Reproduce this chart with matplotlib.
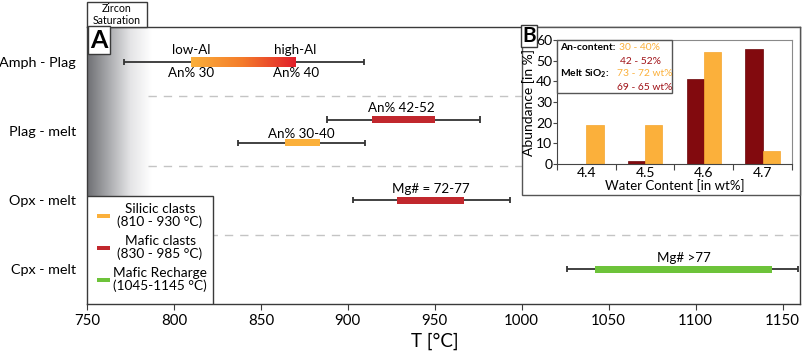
import numpy as np
import matplotlib
matplotlib.use("Agg")
import matplotlib.pyplot as plt
from matplotlib.colors import LinearSegmentedColormap
from matplotlib.patches import Rectangle

plt.rcParams['font.family'] = ['Lato', 'DejaVu Sans']
plt.rcParams['mathtext.fontset'] = 'custom'
plt.rcParams['mathtext.rm'] = 'Lato'
plt.rcParams['mathtext.bf'] = 'Lato:bold'

# ---------------- data ----------------
rows = ['Amph - Plag', 'Plag - melt', 'Opx - melt', 'Cpx - melt']
xticks = [750, 800, 850, 900, 950, 1000, 1050, 1100, 1150]

amph_whisker = [771, 909]
amph_bar = [810, 870]
plag_red_whisker = [888, 976]
plag_red_bar = [914, 950]
plag_or_whisker = [837, 910]
plag_or_bar = [864, 884]
opx_whisker = [903, 993]
opx_bar = [928, 967]
cpx_whisker = [1026, 1159]
cpx_bar = [1042, 1144]

zircon_limit = 787

legend_labels = ['Silicic clasts\n(810 - 930 °C)', 'Mafic clasts\n(830 - 985 °C)',
                 'Mafic Recharge\n(1045-1145 °C)']

water = ['4.4', '4.5', '4.6', '4.7']
mafic_abund = [0, 1.5, 41, 55.5]
silicic_abund = [19, 19, 54, 6.5]

ORANGE = '#FBB03B'
RED = '#C1272D'
GREEN = '#6DC33A'
DARKRED = '#820A0E'
GRAD_RED = '#E2202C'
TXTRED = '#A01218'

W, H = 803, 356
fig = plt.figure(figsize=(W / 100, H / 100), dpi=100)

def fx(p):
    return p / W

def fy(p):
    return 1 - p / H

# ---------------- main axes ----------------
L, R, T, B = 87, 800, 27, 304
ax = fig.add_axes([fx(L), fy(B), fx(R) - fx(L), fy(T) - fy(B)])
ax.set_xlim(750, 1160)
ax.set_ylim(3.5, -0.5)
for s in ax.spines.values():
    s.set_color('#3a3a3a')
    s.set_linewidth(1.0)

ax.set_yticks(range(len(rows)))
ax.set_yticklabels(rows, fontsize=10.4)
ax.tick_params(axis='y', length=0, pad=8)
ax.set_xticks(xticks)
ax.tick_params(axis='x', labelsize=10.8, length=4, color='#3a3a3a', pad=3)
ax.set_xlabel('T [°C]', fontsize=13.5)
ax.xaxis.set_label_coords(0.488, -0.105)
ax.xaxis.label.set_va('top')

# gradient (zircon saturation)
gcmap = LinearSegmentedColormap.from_list('g', ['#6e6f73', '#a9aaad', '#e4e4e6', '#ffffff'])
grad = np.linspace(0, 1, 256).reshape(1, -1)
ax.imshow(grad, extent=[750, zircon_limit, 3.5, -0.5], aspect='auto', cmap=gcmap,
          zorder=0, interpolation='bilinear')

ax.hlines([0.5, 1.5, 2.5], zircon_limit - 2, 1160, colors='#c4c4c4', linewidth=1,
          linestyles=(0, (6, 5)), zorder=1)

def whisker(y, lohi, cap=0.045):
    ax.hlines(y, lohi[0], lohi[1], colors='#333333', linewidth=1.3, zorder=2)
    ax.vlines(lohi, y - cap, y + cap, colors='#333333', linewidth=1.3, zorder=2)

fs_lab = 9.6

# Amph - Plag
y0 = 0
whisker(y0, amph_whisker)
bcmap = LinearSegmentedColormap.from_list('b', [ORANGE, '#F47A2A', GRAD_RED])
ax.imshow(grad, extent=[amph_bar[0], amph_bar[1], y0 + 0.072, y0 - 0.072],
          aspect='auto', cmap=bcmap, zorder=3, interpolation='bilinear')
ax.set_xlim(750, 1160)
ax.set_ylim(3.5, -0.5)
ax.text(amph_bar[0], y0 - 0.17, 'low-Al', ha='center', va='center', fontsize=fs_lab)
ax.text(amph_bar[1], y0 - 0.17, 'high-Al', ha='center', va='center', fontsize=fs_lab)
ax.text(amph_bar[0], y0 + 0.165, 'An% 30', ha='center', va='center', fontsize=fs_lab)
ax.text(amph_bar[1], y0 + 0.165, 'An% 40', ha='center', va='center', fontsize=fs_lab)

# Plag - melt
yr, yo = 1 - 0.163, 1 + 0.17
whisker(yr, plag_red_whisker)
ax.barh(yr, plag_red_bar[1] - plag_red_bar[0], left=plag_red_bar[0], height=0.1,
        color=RED, zorder=3)
ax.text(np.mean(plag_red_bar) - 1, yr - 0.17, 'An% 42-52', ha='center', va='center', fontsize=fs_lab)
whisker(yo, plag_or_whisker)
ax.barh(yo, plag_or_bar[1] - plag_or_bar[0], left=plag_or_bar[0], height=0.1,
        color=ORANGE, zorder=3)
ax.text(np.mean(plag_or_bar) - 0.5, yo - 0.13, 'An% 30-40', ha='center', va='center', fontsize=fs_lab)

# Opx - melt
y2 = 2
whisker(y2, opx_whisker)
ax.barh(y2, opx_bar[1] - opx_bar[0], left=opx_bar[0], height=0.1, color=RED, zorder=3)
ax.text(np.mean(opx_bar), y2 - 0.16, 'Mg# = 72-77', ha='center', va='center', fontsize=fs_lab)

# Cpx - melt
y3 = 3
whisker(y3, cpx_whisker)
ax.barh(y3, cpx_bar[1] - cpx_bar[0], left=cpx_bar[0], height=0.1, color=GREEN, zorder=3)
ax.text(np.mean(cpx_bar), y3 - 0.17, 'Mg# >77', ha='center', va='center', fontsize=fs_lab)

# legend (manual)
leg_right = 750 + (213 - 87) / 87 * 50
leg_top = (196 - 62) / 69.25
ax.add_patch(Rectangle((750, leg_top), leg_right - 750, 3.5 - leg_top, facecolor='white',
                       edgecolor='#3a3a3a', linewidth=1, zorder=5))
leg_colors = [ORANGE, RED, GREEN]
leg_y = [(216 - 62) / 69.25, (248 - 62) / 69.25, (280 - 62) / 69.25]
for c, lab, yy in zip(leg_colors, legend_labels, leg_y):
    ax.add_patch(Rectangle((755.8, yy - 0.03), 7.2, 0.06, facecolor=c, edgecolor='none', zorder=6))
    ax.text(792, yy, lab, ha='center', va='center', fontsize=9.8, linespacing=1.1, zorder=6)

# "A" box
fig.text(fx(99), fy(40), 'A', ha='center', va='center', fontsize=18, fontweight='bold',
         bbox=dict(boxstyle='square,pad=0.1', facecolor='white', edgecolor='#3a3a3a', linewidth=1),
         zorder=10)

# Zircon Saturation box
fig.patches.append(Rectangle((fx(87), fy(27)), fx(147) - fx(87), fy(2) - fy(27),
                             transform=fig.transFigure, facecolor='white', edgecolor='#3a3a3a',
                             linewidth=1, zorder=10))
fig.text(fx(117), fy(14.5), 'Zircon\nSaturation', ha='center', va='center', fontsize=7.6,
         linespacing=1.15, zorder=11)

# ---------------- inset ----------------
fig.patches.append(Rectangle((fx(522), fy(195)), fx(800) - fx(522), fy(27) - fy(195),
                             transform=fig.transFigure, facecolor='white', edgecolor='#555555',
                             linewidth=1, zorder=8))
iax = fig.add_axes([fx(557), fy(164), fx(792) - fx(557), fy(40) - fy(164)], zorder=9)
xpos = np.arange(len(water))
bw = 0.295
iax.bar(xpos - bw / 2, mafic_abund, width=bw, color=DARKRED, edgecolor='#6a0508', linewidth=0.5)
iax.bar(xpos + bw / 2, silicic_abund, width=bw, color=ORANGE, edgecolor='#f5a52e', linewidth=0.5)
iax.set_xlim(-0.5, 3.5)
iax.set_ylim(0, 60)
iax.set_yticks(range(0, 61, 10))
iax.tick_params(axis='y', labelsize=10, length=3, pad=0.5, color='#444444')
iax.set_xticks(np.arange(-0.5, 3.6, 1))
iax.set_xticklabels([])
iax.set_xticks(xpos, minor=True)
iax.set_xticklabels(water, minor=True)
iax.tick_params(axis='x', which='major', length=4, color='#444444')
iax.tick_params(axis='x', which='minor', length=0, labelsize=10, pad=2)
for side in ['top', 'right']:
    iax.spines[side].set_color('#8a8a8a')
for side in ['left', 'bottom']:
    iax.spines[side].set_color('#444444')
iax.set_ylabel('Abundance [in %]', fontsize=10, labelpad=1)
iax.set_xlabel('Water Content [in wt%]', fontsize=9.5, labelpad=0)

# inset legend box
fig.patches.append(Rectangle((fx(557), fy(93)), fx(672) - fx(557), fy(40) - fy(93),
                             transform=fig.transFigure, facecolor='white', edgecolor='#555555',
                             linewidth=1, zorder=10))
fs = 7.4
fig.text(fx(560), fy(48), 'An-content:', fontsize=fs, fontweight='bold', va='center', zorder=11)
fig.text(fx(619), fy(48), '30 - 40%', fontsize=fs, color=ORANGE, va='center', zorder=11)
fig.text(fx(620), fy(61), '42 - 52%', fontsize=fs, color=TXTRED, va='center', zorder=11)
fig.text(fx(560), fy(74), r'Melt SiO$_\mathbf{2}$:', fontsize=fs, fontweight='bold', va='center', zorder=11)
fig.text(fx(617), fy(74), '73 - 72 wt%', fontsize=fs, color=ORANGE, va='center', zorder=11)
fig.text(fx(617), fy(87), '69 - 65 wt%', fontsize=fs, color=TXTRED, va='center', zorder=11)

# "B" box
fig.text(fx(529), fy(36), 'B', ha='center', va='center', fontsize=15, fontweight='bold',
         bbox=dict(boxstyle='square,pad=0.05', facecolor='white', edgecolor='#3a3a3a', linewidth=1),
         zorder=12)

fig.savefig('out.png', dpi=100)
